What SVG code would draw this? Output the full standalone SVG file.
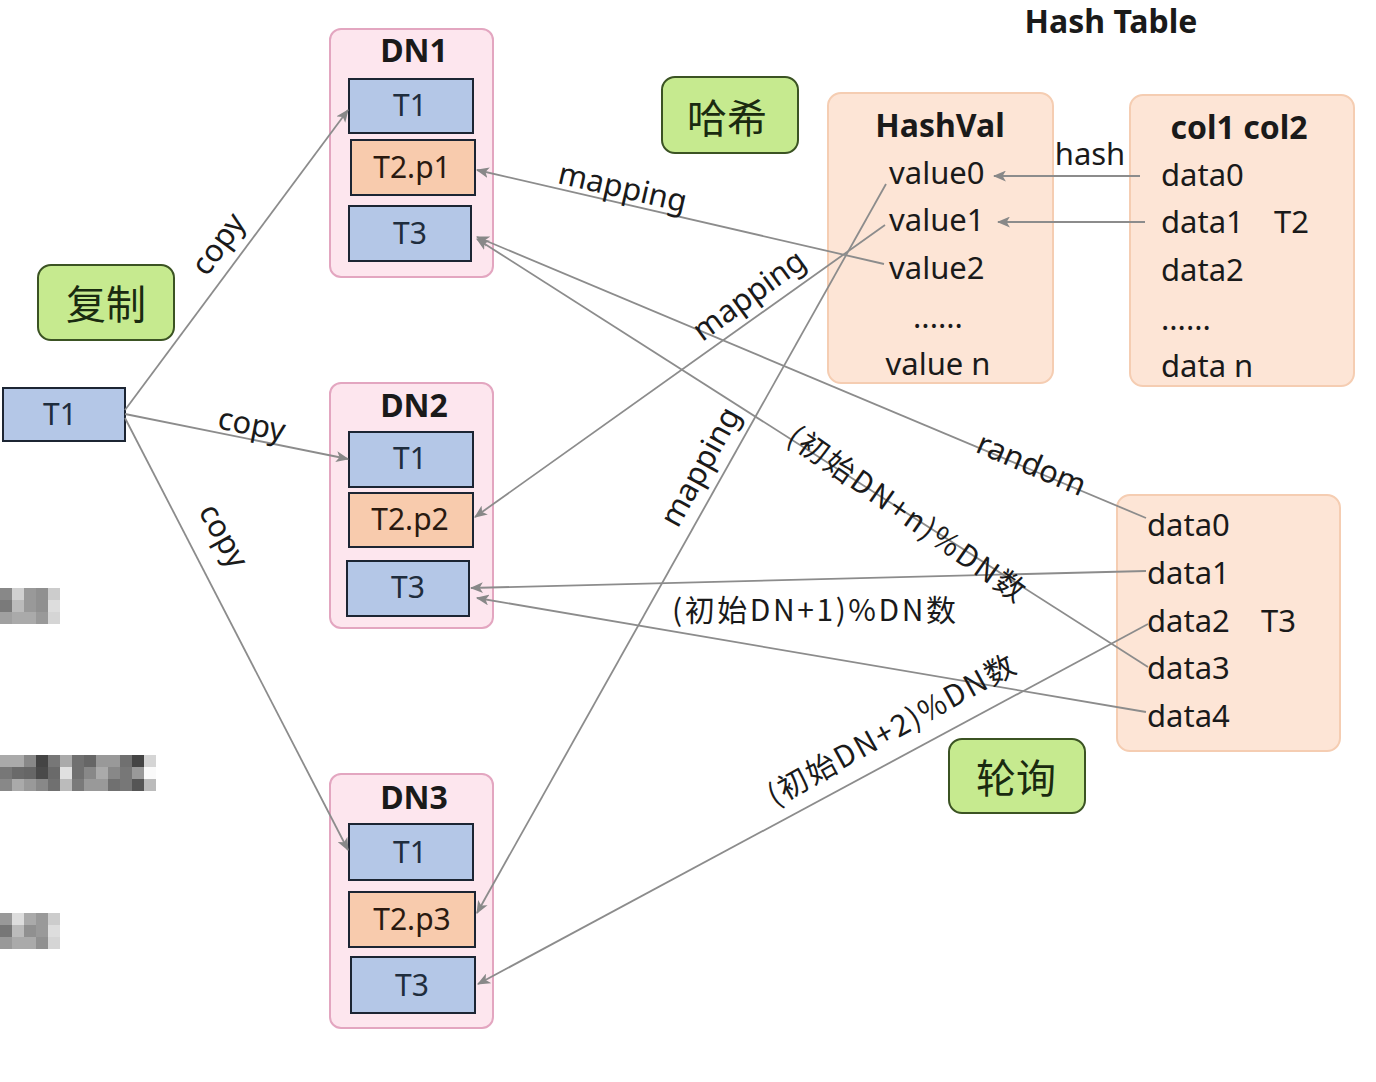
<svg xmlns="http://www.w3.org/2000/svg" width="1376" height="1082" viewBox="0 0 1376 1082">
<style>
.dn{fill:#fde6ee;stroke:#e3a6c0;stroke-width:2}
.blue{fill:#b4c7e7;stroke:#1c2533;stroke-width:2}
.orange{fill:#f8cbad;stroke:#1c2533;stroke-width:2}
.peach{fill:#fde5d6;stroke:#f5cdb2;stroke-width:2}
.green{fill:#c6ea8f;stroke:#3b5323;stroke-width:2}
text{font-family:"Noto Sans","Noto Sans CJK SC",sans-serif;fill:#1a1a1a}
.bt{font-size:30px;text-anchor:middle;dominant-baseline:central;fill:#1f2d3d}
.hd{font-size:32px;font-weight:bold;text-anchor:middle;dominant-baseline:central}
.tx{font-size:31px;dominant-baseline:central}
.lb{font-size:31px;text-anchor:middle;dominant-baseline:central}
.cn{font-family:"Noto Sans CJK SC",sans-serif;font-size:40px;text-anchor:middle;dominant-baseline:central;fill:#1a2a10}
.cl{font-family:"Noto Sans CJK SC",sans-serif;font-size:30px;text-anchor:middle;dominant-baseline:central}
.ln{fill:none;stroke:#8c8c8c;stroke-width:1.8}
.arw{marker-end:url(#arr)}
</style>
<defs>
<marker id="arr" viewBox="0 0 12 10" refX="11" refY="5" markerWidth="13" markerHeight="11" markerUnits="userSpaceOnUse" orient="auto">
<path d="M0,0 L12,5 L0,10 L3,5 z" fill="#888"/>
</marker>
</defs>
<rect width="1376" height="1082" fill="#ffffff"/>

<g id="redacted">
<g transform="translate(0,588)">
<rect x="0" y="0" width="12" height="12" fill="#888"/><rect x="12" y="0" width="12" height="12" fill="#d0d0d0"/><rect x="24" y="0" width="12" height="12" fill="#999"/><rect x="36" y="0" width="12" height="12" fill="#909090"/><rect x="48" y="0" width="12" height="12" fill="#ccc"/>
<rect x="0" y="12" width="12" height="12" fill="#7a7a7a"/><rect x="12" y="12" width="12" height="12" fill="#bbb"/><rect x="24" y="12" width="12" height="12" fill="#999"/><rect x="36" y="12" width="12" height="12" fill="#909090"/><rect x="48" y="12" width="12" height="12" fill="#ddd"/>
<rect x="0" y="24" width="12" height="12" fill="#a0a0a0"/><rect x="12" y="24" width="12" height="12" fill="#aaa"/><rect x="24" y="24" width="12" height="12" fill="#aaa"/><rect x="36" y="24" width="12" height="12" fill="#999"/><rect x="48" y="24" width="12" height="12" fill="#d5d5d5"/>
</g>
<g transform="translate(0,755)">
<rect x="0" y="0" width="12" height="12" fill="#aaa"/><rect x="12" y="0" width="12" height="12" fill="#aaa"/><rect x="24" y="0" width="12" height="12" fill="#888"/><rect x="36" y="0" width="12" height="12" fill="#444"/><rect x="48" y="0" width="12" height="12" fill="#777"/><rect x="60" y="0" width="12" height="12" fill="#aaa"/><rect x="72" y="0" width="12" height="12" fill="#707070"/><rect x="84" y="0" width="12" height="12" fill="#666"/><rect x="96" y="0" width="12" height="12" fill="#999"/><rect x="108" y="0" width="12" height="12" fill="#999"/><rect x="120" y="0" width="12" height="12" fill="#707070"/><rect x="132" y="0" width="12" height="12" fill="#444"/><rect x="144" y="0" width="12" height="12" fill="#d5d5d5"/>
<rect x="0" y="12" width="12" height="12" fill="#777"/><rect x="12" y="12" width="12" height="12" fill="#6a6a6a"/><rect x="24" y="12" width="12" height="12" fill="#666"/><rect x="36" y="12" width="12" height="12" fill="#4a4a4a"/><rect x="48" y="12" width="12" height="12" fill="#6a6a6a"/><rect x="60" y="12" width="12" height="12" fill="#e0e0e0"/><rect x="72" y="12" width="12" height="12" fill="#707070"/><rect x="84" y="12" width="12" height="12" fill="#888"/><rect x="96" y="12" width="12" height="12" fill="#aaa"/><rect x="108" y="12" width="12" height="12" fill="#888"/><rect x="120" y="12" width="12" height="12" fill="#777"/><rect x="132" y="12" width="12" height="12" fill="#999"/><rect x="144" y="12" width="12" height="12" fill="#fafafa"/>
<rect x="0" y="24" width="12" height="12" fill="#888"/><rect x="12" y="24" width="12" height="12" fill="#aaa"/><rect x="24" y="24" width="12" height="12" fill="#999"/><rect x="36" y="24" width="12" height="12" fill="#888"/><rect x="48" y="24" width="12" height="12" fill="#707070"/><rect x="60" y="24" width="12" height="12" fill="#bbb"/><rect x="72" y="24" width="12" height="12" fill="#7a7a7a"/><rect x="84" y="24" width="12" height="12" fill="#999"/><rect x="96" y="24" width="12" height="12" fill="#999"/><rect x="108" y="24" width="12" height="12" fill="#707070"/><rect x="120" y="24" width="12" height="12" fill="#777"/><rect x="132" y="24" width="12" height="12" fill="#555"/><rect x="144" y="24" width="12" height="12" fill="#bbb"/>
</g>
<g transform="translate(0,913)">
<rect x="0" y="0" width="12" height="12" fill="#999"/><rect x="12" y="0" width="12" height="12" fill="#ddd"/><rect x="24" y="0" width="12" height="12" fill="#aaa"/><rect x="36" y="0" width="12" height="12" fill="#999"/><rect x="48" y="0" width="12" height="12" fill="#ccc"/>
<rect x="0" y="12" width="12" height="12" fill="#777"/><rect x="12" y="12" width="12" height="12" fill="#bbb"/><rect x="24" y="12" width="12" height="12" fill="#909090"/><rect x="36" y="12" width="12" height="12" fill="#999"/><rect x="48" y="12" width="12" height="12" fill="#ddd"/>
<rect x="0" y="24" width="12" height="12" fill="#999"/><rect x="12" y="24" width="12" height="12" fill="#aaa"/><rect x="24" y="24" width="12" height="12" fill="#aaa"/><rect x="36" y="24" width="12" height="12" fill="#909090"/><rect x="48" y="24" width="12" height="12" fill="#d5d5d5"/>
</g>
</g>

<g id="title">
<text x="1111" y="20" class="hd">Hash Table</text>
</g>

<g id="src-t1">
<rect x="3" y="388" width="122" height="53" class="blue"/>
<text x="60" y="413" class="bt">T1</text>
</g>

<g id="tag-copy">
<rect x="38" y="265" width="136" height="75" rx="13" class="green"/>
<text x="106" y="302" class="cn">复制</text>
</g>
<g id="tag-hash">
<rect x="662" y="77" width="136" height="76" rx="13" class="green"/>
<text x="727" y="116" class="cn">哈希</text>
</g>
<g id="tag-poll">
<rect x="949" y="739" width="136" height="74" rx="13" class="green"/>
<text x="1016" y="776" class="cn">轮询</text>
</g>

<g id="dn1">
<rect x="330" y="29" width="163" height="248" rx="11" class="dn"/>
<text x="414" y="49" class="hd">DN1</text>
<rect x="349" y="79" width="124" height="54" class="blue"/>
<text x="410" y="104" class="bt">T1</text>
<rect x="351" y="140" width="124" height="55" class="orange"/>
<text x="412" y="166" class="bt" style="fill:#2a1a10">T2.p1</text>
<rect x="349" y="206" width="122" height="55" class="blue"/>
<text x="410" y="232" class="bt">T3</text>
</g>

<g id="dn2">
<rect x="330" y="383" width="163" height="245" rx="11" class="dn"/>
<text x="414" y="404" class="hd">DN2</text>
<rect x="349" y="432" width="124" height="55" class="blue"/>
<text x="410" y="457" class="bt">T1</text>
<rect x="349" y="493" width="124" height="54" class="orange"/>
<text x="410" y="518" class="bt" style="fill:#2a1a10">T2.p2</text>
<rect x="347" y="561" width="122" height="55" class="blue"/>
<text x="408" y="586" class="bt">T3</text>
</g>

<g id="dn3">
<rect x="330" y="774" width="163" height="254" rx="11" class="dn"/>
<text x="414" y="796" class="hd">DN3</text>
<rect x="349" y="824" width="124" height="56" class="blue"/>
<text x="410" y="851" class="bt">T1</text>
<rect x="349" y="892" width="126" height="55" class="orange"/>
<text x="412" y="918" class="bt" style="fill:#2a1a10">T2.p3</text>
<rect x="351" y="957" width="124" height="56" class="blue"/>
<text x="412" y="984" class="bt">T3</text>
</g>

<g id="hashval">
<rect x="828" y="93" width="225" height="290" rx="13" class="peach"/>
<text x="940" y="124" class="hd">HashVal</text>
<text x="889" y="172" class="tx">value0</text>
<text x="889" y="219" class="tx">value1</text>
<text x="889" y="267" class="tx">value2</text>
<text x="938" y="316" class="tx" style="text-anchor:middle">......</text>
<text x="938" y="363" class="tx" style="text-anchor:middle">value n</text>
</g>

<g id="cols">
<rect x="1130" y="95" width="224" height="291" rx="13" class="peach"/>
<text x="1239" y="126" class="hd">col1 col2</text>
<text x="1161" y="174" class="tx">data0</text>
<text x="1161" y="221" class="tx">data1</text>
<text x="1274" y="221" class="tx">T2</text>
<text x="1161" y="269" class="tx">data2</text>
<text x="1161" y="318" class="tx">......</text>
<text x="1161" y="365" class="tx">data n</text>
</g>

<g id="t3data">
<rect x="1117" y="495" width="223" height="256" rx="13" class="peach"/>
<text x="1147" y="524" class="tx">data0</text>
<text x="1147" y="572" class="tx">data1</text>
<text x="1147" y="620" class="tx">data2</text>
<text x="1261" y="620" class="tx">T3</text>
<text x="1147" y="667" class="tx">data3</text>
<text x="1147" y="715" class="tx">data4</text>
</g>

<g id="connectors">
<line x1="125" y1="410" x2="348" y2="110" class="ln arw"/>
<line x1="125" y1="414" x2="348" y2="459" class="ln arw"/>
<line x1="125" y1="418" x2="348" y2="850" class="ln arw"/>
<line x1="884" y1="264" x2="477" y2="170" class="ln arw"/>
<line x1="885" y1="225" x2="475" y2="517" class="ln arw"/>
<line x1="886" y1="184" x2="477" y2="913" class="ln arw"/>
<line x1="1140" y1="176" x2="994" y2="176" class="ln arw"/>
<line x1="1145" y1="222" x2="998" y2="222" class="ln arw"/>
<line x1="1146" y1="518" x2="477" y2="237" class="ln arw"/>
<line x1="1148" y1="667" x2="477" y2="239" class="ln arw"/>
<line x1="1146" y1="571" x2="471" y2="588" class="ln arw"/>
<line x1="1146" y1="712" x2="477" y2="598" class="ln arw"/>
<line x1="1148" y1="624" x2="478" y2="984" class="ln arw"/>

<text class="lb" transform="translate(217,243) rotate(-54)">copy</text>
<text class="lb" transform="translate(252,423) rotate(11)">copy</text>
<text class="lb" transform="translate(225,535) rotate(61)">copy</text>
<text class="lb" transform="translate(623,186) rotate(13)">mapping</text>
<text class="lb" transform="translate(748,294) rotate(-36)">mapping</text>
<text class="lb" transform="translate(699,466) rotate(-61)">mapping</text>
<text class="lb" x="1090" y="153">hash</text>
<text class="lb" transform="translate(1032,463) rotate(23)">random</text>
<text class="cl" transform="translate(908,512) rotate(35)" textLength="282" lengthAdjust="spacing">(初始DN+n)%DN数</text>
<text class="cl" x="814" y="608" textLength="284" lengthAdjust="spacing">(初始DN+1)%DN数</text>
<text class="cl" transform="translate(890,728) rotate(-29)" textLength="278" lengthAdjust="spacing">(初始DN+2)%DN数</text>
</g>
</svg>
